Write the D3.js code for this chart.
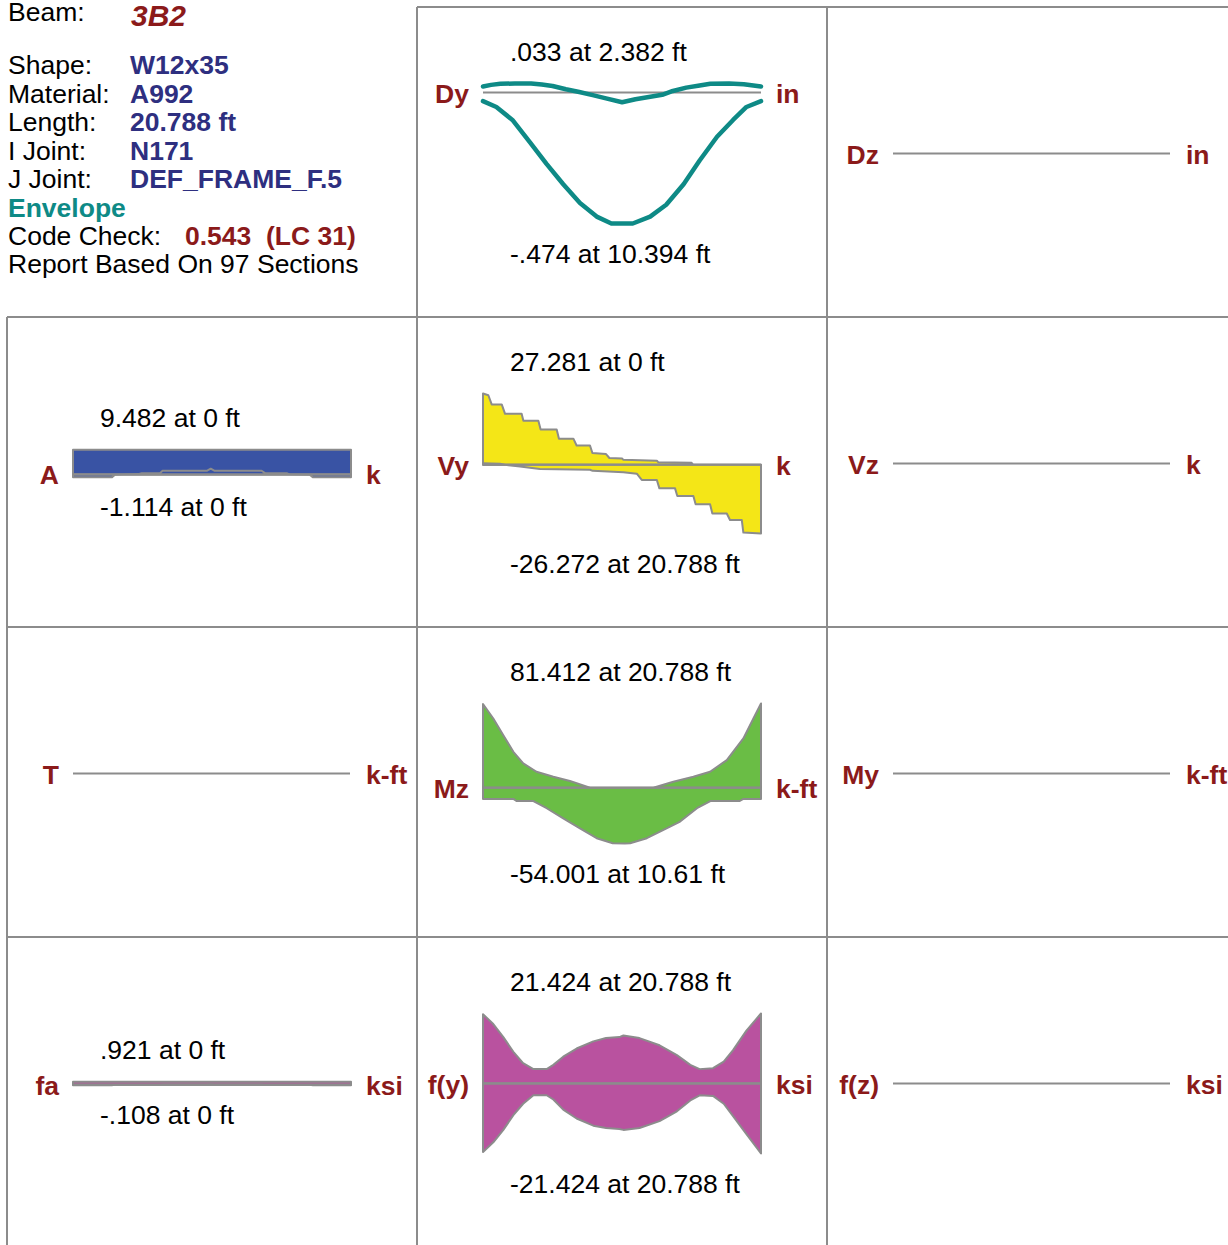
<!DOCTYPE html>
<html>
<head>
<meta charset="utf-8">
<script src="https://cdn.jsdelivr.net/npm/d3@7"></script>
<style>
body { margin: 0; background: #fff; }
svg { display: block; font-family: "Liberation Sans", Arial, Helvetica, sans-serif; }
</style>
</head>
<body>
<script>
// Beam summary
const beamName = "3B2";
const infoLabels = ["Shape:", "Material:", "Length:", "I Joint:", "J Joint:"];
const infoValues = ["W12x35", "A992", "20.788 ft", "N171", "DEF_FRAME_F.5"];
const codeCheck = "0.543  (LC 31)";
const sectionsNote = "Report Based On 97 Sections";
const beamLength = 20.788;

// Envelope curves, [ft, value]
const dyMax = [[0, 0.022], [0.6, 0.028], [1.3, 0.032], [2.382, 0.033], [3.6, 0.033], [4.4, 0.029], [5.2, 0.024],
    [6.2, 0.012], [7.2, 0.002], [8.2, -0.009], [9.2, -0.021], [10.4, -0.035], [11.4, -0.024], [12.4, -0.016],
    [13.4, -0.008], [14.2, 0.006], [15.2, 0.018], [16.2, 0.026], [17.0, 0.032], [18.4, 0.033], [19.5, 0.030], [20.788, 0.022]];
const dyMin = [[0, -0.031], [1.0, -0.052], [2.2, -0.099], [3.5, -0.179], [4.75, -0.258], [6.0, -0.332], [7.25, -0.4],
    [8.5, -0.449], [9.6, -0.474], [10.394, -0.474], [11.2, -0.474], [12.5, -0.449], [13.7, -0.406], [15.0, -0.332],
    [16.2, -0.246], [17.5, -0.16], [18.7, -0.099], [19.7, -0.052], [20.788, -0.031]];

const aMax = [[0, 9.482], [10.4, 9.482], [20.788, 9.482]];
const aMin = [[0, -1.114], [2.9, -1.114], [3.14, -0.13], [4.88, 0.13], [5.14, 0.5], [6.5, 0.5], [6.7, 1.4], [10.0, 1.4],
    [10.3, 2.2], [10.6, 1.4], [14.1, 1.4], [14.36, 0.5], [15.98, 0.5], [16.2, 0], [17.7, -0.13], [17.93, -1.114], [20.788, -1.114]];

const vyMax = [[0, 27.281], [0.4, 26.6], [0.65, 23.1], [1.4, 23.1], [1.65, 19.5], [2.89, 19.5], [3.02, 16.9], [4.14, 16.9],
    [4.31, 13.5], [5.51, 13.5], [5.68, 10.0], [6.76, 10.0], [7.0, 7.4], [8.0, 7.4], [8.18, 4.5], [9.2, 4.1], [9.45, 2.6],
    [10.4, 2.4], [10.5, 1.9], [13.0, 1.6], [13.1, 1.0], [15.6, 0.8], [15.7, 0.1], [18.2, 0.0], [18.35, -0.5], [20.788, -0.6]];
const vyMin = [[0, 0.6], [1.27, 0.4], [1.9, -0.2], [2.77, -0.6], [4.26, -1.6], [8.0, -1.9], [8.2, -2.3], [10.5, -2.8],
    [11.5, -3.4], [11.87, -5.8], [13.0, -5.8], [13.19, -9.0], [14.36, -9.0], [14.53, -11.9], [15.73, -11.9], [15.9, -15.1],
    [16.98, -15.1], [17.15, -18.6], [18.23, -18.6], [18.47, -21.1], [19.35, -21.1], [19.47, -25.9], [20.788, -26.272]];

const mzMax = [[0, 80.9], [0.77, 66.9], [1.52, 50.8], [2.27, 34.7], [3.01, 23.5], [4.0, 15.4], [5.26, 10.6], [6.5, 6.4],
    [8.0, 0.0], [9.3, -3.9], [11.5, -3.9], [12.74, 0.0], [14.23, 5.8], [15.73, 10.6], [16.98, 15.4], [18.23, 26.7],
    [19.47, 47.6], [20.22, 66.9], [20.788, 81.412]];
const mzMin = [[0, -10.9], [2.27, -10.9], [2.5, -12.9], [3.77, -12.9], [4.76, -19.9], [6.0, -29.6], [7.25, -39.3],
    [8.5, -48.9], [9.7, -53.7], [10.61, -54.001], [11.0, -53.7], [12.25, -48.9], [13.5, -40.9], [14.74, -32.8],
    [16.0, -19.9], [17.0, -12.9], [19.2, -12.9], [19.47, -10.9], [20.788, -10.9]];

const faMax = [[0, 0.921], [10.4, 0.921], [20.788, 0.921]];
const faMin = [[0, -0.108], [2.9, -0.108], [3.14, -0.013], [4.88, 0.013], [5.14, 0.049], [6.5, 0.049], [6.7, 0.136],
    [10.0, 0.136], [10.3, 0.214], [10.6, 0.136], [14.1, 0.136], [14.36, 0.049], [15.98, 0.049], [16.2, 0],
    [17.7, -0.013], [17.93, -0.108], [20.788, -0.108]];

const fyMax = [[0, 21.2], [0.77, 18.2], [1.52, 14.2], [2.27, 9.7], [3.0, 6.2], [3.77, 4.4], [4.76, 4.4], [5.26, 5.7],
    [6.0, 8.2], [7.0, 10.7], [8.25, 12.9], [9.2, 13.9], [10.2, 14.2], [10.5, 14.7], [11.7, 13.9], [13.2, 11.7],
    [14.5, 8.7], [15.5, 5.7], [16.2, 4.4], [17.2, 4.7], [18.0, 6.7], [18.7, 10.2], [19.7, 16.2], [20.788, 21.424]];
const fyMin = [[0, -21.0], [0.77, -18.0], [1.52, -14.2], [2.27, -9.7], [3.0, -6.2], [3.77, -3.6], [4.76, -3.6], [5.26, -4.9],
    [6.0, -8.0], [7.0, -10.7], [8.25, -12.9], [9.2, -13.6], [10.2, -13.9], [10.5, -14.2], [11.7, -13.6], [13.2, -11.5],
    [14.5, -8.5], [15.5, -5.2], [16.2, -3.6], [17.2, -3.8], [18.0, -6.2], [18.7, -10.0], [19.7, -15.5], [20.788, -21.424]];

// Grid cells, row by row (first cell holds the beam summary)
const charts = [
    null,
    { label: "Dy", unit: "in", max: dyMax, min: dyMin, kind: "line", top: ".033 at 2.382 ft", bottom: "-.474 at 10.394 ft" },
    { label: "Dz", unit: "in" },
    { label: "A", unit: "k", max: aMax, min: aMin, fill: "#3953a4", top: "9.482 at 0 ft", bottom: "-1.114 at 0 ft" },
    { label: "Vy", unit: "k", max: vyMax, min: vyMin, fill: "#f4e617", top: "27.281 at 0 ft", bottom: "-26.272 at 20.788 ft" },
    { label: "Vz", unit: "k" },
    { label: "T", unit: "k-ft" },
    { label: "Mz", unit: "k-ft", max: mzMax, min: mzMin, fill: "#6abd45", top: "81.412 at 20.788 ft", bottom: "-54.001 at 10.61 ft" },
    { label: "My", unit: "k-ft" },
    { label: "fa", unit: "ksi", max: faMax, min: faMin, fill: "#b9529f", top: ".921 at 0 ft", bottom: "-.108 at 0 ft" },
    { label: "f(y)", unit: "ksi", max: fyMax, min: fyMin, fill: "#b9529f", top: "21.424 at 20.788 ft", bottom: "-21.424 at 20.788 ft" },
    { label: "f(z)", unit: "ksi" }
];

// Layout
const width = 1228;
const height = 1245;
const gridX = 7, gridY = 7, cellW = 410, cellH = 310;
const plotLeft = 66, plotRight = 344, chartMid = 146.5, chartSpan = 140;
const fontSize = "26.5px";
const darkRed = "#8b1a1a";
const navy = "#2e2f80";
const teal = "#0e8a86";
const outline = "#8c8c8c";

const svg = d3.select("body")
    .append("svg")
    .attr("width", width)
    .attr("height", height);

// Grid lines
for (let r = 0; r < 4; r++) {
    svg.append("line")
        .attr("x1", r === 0 ? gridX + cellW : gridX).attr("x2", gridX + 3 * cellW)
        .attr("y1", gridY + r * cellH).attr("y2", gridY + r * cellH)
        .attr("stroke", outline).attr("stroke-width", 2);
}
for (let c = 0; c < 3; c++) {
    svg.append("line")
        .attr("x1", gridX + c * cellW).attr("x2", gridX + c * cellW)
        .attr("y1", c === 0 ? gridY + cellH : gridY).attr("y2", gridY + 4 * cellH)
        .attr("stroke", outline).attr("stroke-width", 2);
}

// Beam summary text
const info = svg.append("g").style("font-size", fontSize);
info.append("text").attr("x", 8).attr("y", 21).text("Beam:");
info.append("text").attr("x", 131).attr("y", 26)
    .style("font-size", "30px").style("font-weight", "bold").style("font-style", "italic")
    .attr("fill", darkRed).text(beamName);
infoLabels.forEach((d, i) => {
    const yy = 74 + i * 28.5;
    info.append("text").attr("x", 8).attr("y", yy).text(d);
    info.append("text").attr("x", 130).attr("y", yy)
        .style("font-weight", "bold").attr("fill", navy).text(infoValues[i]);
});
info.append("text").attr("x", 8).attr("y", 217)
    .style("font-weight", "bold").attr("fill", teal).text("Envelope");
info.append("text").attr("x", 8).attr("y", 245).text("Code Check:");
info.append("text").attr("x", 185).attr("y", 245)
    .style("font-weight", "bold").style("white-space", "pre").attr("fill", darkRed).text(codeCheck);
info.append("text").attr("x", 8).attr("y", 273).text(sectionsNote);

// Shared x scale (cell relative)
const x = d3.scaleLinear().domain([0, beamLength]).range([plotLeft, plotRight]);

// Value range of each chart and the widest range per row
charts.forEach(c => {
    if (c && c.max) {
        c.lo = d3.min(c.min, d => d[1]);
        c.hi = d3.max(c.max, d => d[1]);
    }
});
const rowRange = [0, 1, 2, 3].map(r =>
    d3.max(charts.slice(r * 3, r * 3 + 3), c => (c && c.max) ? c.hi - c.lo : 0));

charts.forEach((c, i) => {
    if (!c) return;
    const row = Math.floor(i / 3), col = i % 3;
    const g = svg.append("g")
        .attr("transform", `translate(${gridX + col * cellW}, ${gridY + row * cellH})`);

    let y0 = chartMid;
    let y = null;
    if (c.max) {
        const px = chartSpan / rowRange[row];
        const half = px * (c.hi - c.lo) / 2;
        y = d3.scaleLinear().domain([c.lo, c.hi]).range([chartMid + half, chartMid - half]);
        y0 = y(0);
    }

    if (!c.max) {
        g.append("line")
            .attr("x1", plotLeft).attr("x2", plotRight - 1)
            .attr("y1", y0).attr("y2", y0)
            .attr("stroke", outline).attr("stroke-width", 2);
    } else if (c.kind === "line") {
        g.append("line")
            .attr("x1", plotLeft).attr("x2", plotRight)
            .attr("y1", y0).attr("y2", y0)
            .attr("stroke", outline).attr("stroke-width", 2);
        const line = d3.line().x(d => x(d[0])).y(d => y(d[1]));
        [c.max, c.min].forEach(s => {
            g.append("path")
                .attr("d", line(s))
                .attr("fill", "none")
                .attr("stroke", teal)
                .attr("stroke-width", 4.5)
                .attr("stroke-linejoin", "round")
                .attr("stroke-linecap", "round");
        });
    } else {
        const area = d3.area().x(d => x(d[0])).y0(y0).y1(d => y(d[1]));
        [c.max, c.min].forEach(s => {
            g.append("path")
                .attr("d", area(s))
                .attr("fill", c.fill)
                .attr("stroke", outline)
                .attr("stroke-width", 2)
                .attr("stroke-linejoin", "round");
        });
        g.append("line")
            .attr("x1", plotLeft).attr("x2", plotRight)
            .attr("y1", y0).attr("y2", y0)
            .attr("stroke", outline).attr("stroke-width", 2);
    }

    // Extreme value notes
    if (c.top) {
        g.append("text").attr("x", plotLeft + 27).attr("y", y(c.hi) - 23)
            .style("font-size", fontSize).text(c.top);
        g.append("text").attr("x", plotLeft + 27).attr("y", y(c.lo) + 39)
            .style("font-size", fontSize).text(c.bottom);
    }

    // Quantity and unit labels
    g.append("text").attr("x", plotLeft - 14).attr("y", y0 + 10)
        .attr("text-anchor", "end")
        .style("font-size", fontSize).style("font-weight", "bold")
        .attr("fill", darkRed).text(c.label);
    g.append("text").attr("x", plotRight + 15).attr("y", y0 + 10)
        .style("font-size", fontSize).style("font-weight", "bold")
        .attr("fill", darkRed).text(c.unit);
});
</script>
</body>
</html>
